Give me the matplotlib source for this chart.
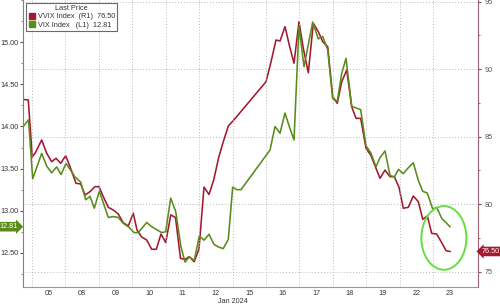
import matplotlib
matplotlib.use("Agg")
import matplotlib.pyplot as plt
import matplotlib.transforms as mtransforms
from matplotlib.patches import Patch, Ellipse
from matplotlib.ticker import MultipleLocator, FormatStrFormatter

plt.rcParams['font.family'] = ['Liberation Sans', 'DejaVu Sans']

# ---- data (x = trading-session position; day k spans [k, k+1]) ----
day_labels = ['05', '08', '09', '10', '11', '12', '15', '16', '17', '18', '19', '22', '23']
month_label = 'Jan 2024'
vix_ticks = [12.50, 13.00, 13.50, 14.00, 14.50, 15.00]
vvix_ticks = [75, 80, 85, 90, 95]

vvix_x = [0.740, 0.889, 1.009, 1.105, 1.290, 1.440, 1.589, 1.718, 1.859, 2.008,
          2.137, 2.317, 2.457, 2.586, 2.736, 2.885, 3.005, 3.133, 3.283, 3.433,
          3.582, 3.732, 3.882, 4.031, 4.142, 4.282, 4.432, 4.582, 4.719, 4.860,
          5.001, 5.153, 5.294, 5.443, 5.578, 5.704, 5.853, 5.997, 6.147, 6.296,
          6.437, 6.586, 6.724, 6.874, 7.023, 8.002, 8.142, 8.301, 8.421, 8.570,
          8.699, 8.840, 8.989, 9.118, 9.268, 9.417, 9.567, 9.698, 9.848, 9.998,
          10.135, 10.267, 10.417, 10.566, 10.695, 10.835, 10.994, 11.135, 11.293, 11.413,
          11.563, 11.712, 11.841, 11.982, 12.110, 12.260, 12.409, 12.559, 12.691, 12.828,
          12.960, 13.109, 13.259, 13.388, 13.508]
vvix_y = [87.76, 87.72, 83.50, 83.83, 84.76, 83.77, 83.15, 83.40, 83.03, 83.59,
          82.78, 81.55, 81.50, 80.68, 80.93, 81.30, 81.30, 80.56, 79.77, 79.57,
          79.27, 78.63, 78.39, 79.33, 78.09, 77.57, 77.35, 76.66, 76.66, 77.79,
          77.16, 79.21, 79.01, 75.99, 75.92, 76.11, 75.74, 76.68, 81.27, 80.72,
          81.79, 83.46, 84.63, 85.79, 86.19, 89.07, 90.44, 92.16, 92.09, 93.15,
          91.79, 90.44, 93.52, 91.55, 89.74, 93.40, 92.78, 92.04, 91.67, 87.96,
          87.47, 89.07, 89.94, 87.22, 86.36, 86.36, 84.14, 83.64, 82.66, 81.92,
          82.53, 82.04, 82.04, 81.25, 79.70, 79.77, 80.61, 80.19, 78.88, 79.13,
          77.84, 77.79, 77.15, 76.56, 76.50]

vix_x = [0.740, 0.895, 1.021, 1.290, 1.440, 1.589, 1.739, 1.868, 2.017, 2.158,
         2.287, 2.457, 2.607, 2.736, 2.864, 3.014, 3.154, 3.283, 3.433, 3.582,
         3.732, 3.911, 4.052, 4.181, 4.432, 4.582, 4.881, 5.001, 5.150, 5.300,
         5.458, 5.578, 5.707, 5.856, 6.006, 6.147, 6.296, 6.446, 6.574, 6.724,
         6.874, 7.005, 7.125, 7.254, 8.122, 8.271, 8.421, 8.570, 8.699, 8.840,
         8.989, 9.139, 9.399, 9.567, 9.698, 9.848, 9.998, 10.135, 10.267, 10.396,
         10.566, 10.695, 10.835, 10.994, 11.135, 11.293, 11.413, 11.563, 11.712, 11.841,
         11.961, 12.110, 12.260, 12.409, 12.559, 12.691, 12.828, 12.990, 13.109, 13.259,
         13.508]
vix_y = [14.00, 14.08, 13.38, 13.68, 13.53, 13.45, 13.52, 13.43, 13.56, 13.48,
         13.40, 13.34, 13.13, 13.17, 13.03, 13.23, 13.07, 12.92, 12.93, 12.92,
         12.85, 12.80, 12.74, 12.74, 12.86, 12.81, 12.74, 12.75, 13.15, 12.99,
         12.57, 12.39, 12.45, 12.41, 12.70, 12.65, 12.72, 12.60, 12.57, 12.55,
         12.66, 13.28, 13.25, 13.25, 13.72, 14.00, 13.92, 14.16, 14.00, 13.84,
         15.19, 14.71, 15.24, 15.04, 15.07, 14.91, 14.33, 14.30, 14.63, 14.81,
         14.24, 14.22, 14.20, 13.77, 13.69, 13.52, 13.63, 13.71, 13.42, 13.40,
         13.49, 13.44, 13.51, 13.57, 13.36, 13.23, 13.21, 13.02, 13.04, 12.91,
         12.81]

vvix_last = 76.50
vix_last = 12.81

# ---- style ----
RED = '#a3192f'
GREEN = '#5a8c1c'
GRID = '#b8b8b8'
TXT = '#333333'
FS = 5.2
LFS = 5.3

fig = plt.figure(figsize=(5.0, 3.05), dpi=100)
ax = fig.add_axes([0.046, 0.059, 0.910, 0.941])
ax2 = ax.twinx()

ax.set_zorder(ax2.get_zorder() + 1)
ax.patch.set_visible(False)

ax2.plot(vvix_x, vvix_y, color=RED, lw=1.15, solid_joinstyle='round')
ax.plot(vix_x, vix_y, color=GREEN, lw=1.15, solid_joinstyle='round')

ax.set_xlim(0.731, 14.345)
ax.set_ylim(12.094, 15.502)
ax2.set_ylim(73.867, 95.126)

# x ticks: labels at day centres, grid at day boundaries
bounds = list(range(1, len(day_labels) + 1))
centers = [b + 0.5 for b in bounds]
ax.set_xticks(centers)
ax.set_xticklabels(day_labels, fontsize=FS, color=TXT)
ax.set_xticks(bounds, minor=True)
ax.tick_params(axis='x', which='major', length=0, pad=2)
ax.tick_params(axis='x', which='minor', length=0)
ax.xaxis.grid(True, which='minor', linestyle=(0, (1, 2)), color=GRID, lw=0.7)
ax.text(7.0, -0.037, month_label,
        transform=mtransforms.blended_transform_factory(ax.transData, ax.transAxes),
        ha='center', va='top', fontsize=FS, color=TXT)

# left axis (VIX)
ax.set_yticks(vix_ticks)
ax.yaxis.set_minor_locator(MultipleLocator(0.25))
ax.yaxis.set_major_formatter(FormatStrFormatter('%.2f'))
ax.tick_params(axis='y', which='major', labelsize=FS, labelcolor=TXT, length=2, width=0.8,
               color='#555555', pad=1)
ax.tick_params(axis='y', which='minor', length=1.5, width=0.6, color='#777777')

# right axis (VVIX)
ax2.set_yticks(vvix_ticks)
ax2.yaxis.set_minor_locator(MultipleLocator(2.5))
ax2.tick_params(axis='y', which='major', labelsize=FS, labelcolor='#555555', length=2.5, width=0.8,
                color='#8a4450', pad=2)
ax2.tick_params(axis='y', which='minor', length=1.5, width=0.6, color='#8a4450')
ax2.yaxis.grid(True, which='major', linestyle=(0, (1, 2)), color=GRID, lw=0.7)
ax2.set_axisbelow(True)

for a in (ax, ax2):
    a.spines['top'].set_visible(False)
ax.spines['left'].set_color('#7c8a5c')
ax.spines['right'].set_visible(False)
ax.spines['bottom'].set_color('#999999')
ax2.spines['right'].set_color('#a06070')
ax2.spines['left'].set_visible(False)
ax2.spines['bottom'].set_visible(False)
ax2.tick_params(axis='x', which='both', length=0)

# last-price tags
tl = mtransforms.blended_transform_factory(ax.transAxes, ax.transData)
ax.text(-0.011, vix_last, f'{vix_last:.2f}', transform=tl, ha='right', va='center',
        fontsize=FS, color='white', clip_on=False, zorder=10,
        bbox=dict(boxstyle='rarrow,pad=0.18', fc=GREEN, ec='none'))
tr = mtransforms.blended_transform_factory(ax2.transAxes, ax2.transData)
ax2.text(1.008, vvix_last, f'{vvix_last:.2f}', transform=tr, ha='left', va='center',
         fontsize=FS, color='white', clip_on=False, zorder=10,
         bbox=dict(boxstyle='larrow,pad=0.18', fc=RED, ec='none'))

# highlight ellipse
ax.add_patch(Ellipse((0.925, 0.171), 0.099, 0.222, transform=ax.transAxes,
                     fill=False, ec='#66dd44', lw=1.4, zorder=5))

# legend
handles = [Patch(fc=RED, ec=RED), Patch(fc=GREEN, ec=GREEN)]
labels = [f'VVIX Index  (R1)  {vvix_last:.2f}', f'VIX Index   (L1)  {vix_last:.2f}']
leg = ax.legend(handles, labels, title='Last Price', loc='upper left',
                bbox_to_anchor=(0.004, 0.995), fontsize=LFS, title_fontsize=LFS,
                frameon=True, fancybox=False, borderpad=0.3, handlelength=0.9,
                handleheight=0.9, handletextpad=0.35, labelspacing=0.1,
                borderaxespad=0.2)
leg.get_frame().set_edgecolor('#444444')
leg.get_frame().set_linewidth(0.8)
leg.get_title().set_color(TXT)
for t in leg.get_texts():
    t.set_color(TXT)
leg.set_zorder(20)

fig.savefig('out.png', dpi=100)
